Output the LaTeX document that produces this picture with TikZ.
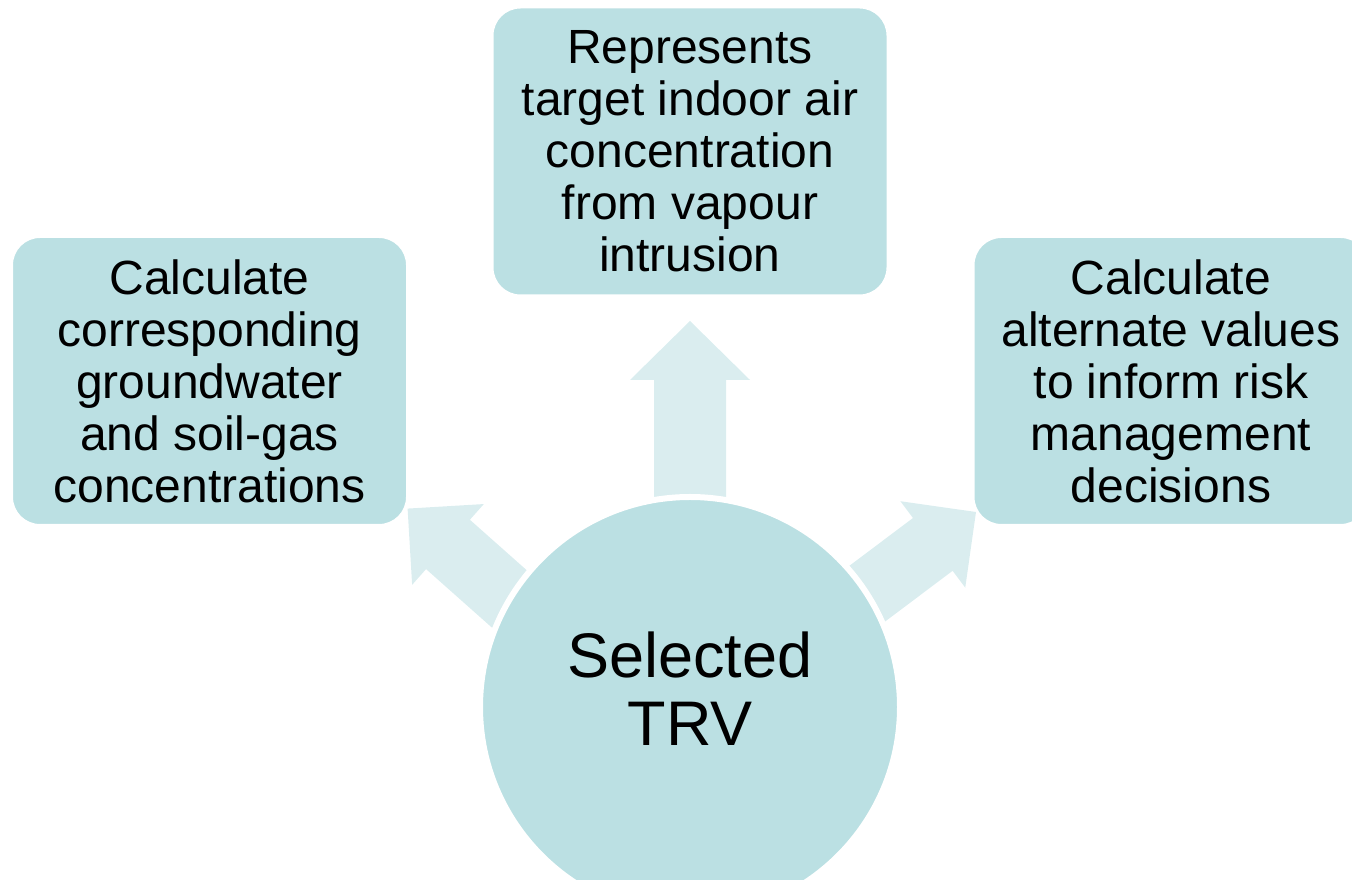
\documentclass[tikz,border=0pt]{standalone}
\usepackage{fontspec}
\setmainfont{Liberation Sans}
\definecolor{tealbox}{RGB}{187,224,227}
\definecolor{tealarrow}{RGB}{218,237,239}

\begin{document}
\begin{tikzpicture}[
        x=1pt, y=1pt,
        box/.style={rectangle, fill=tealbox, draw=white, line width=2pt, rounded corners=28pt, minimum width=395pt, minimum height=288pt, align=center, font=\fontsize{48}{52}\selectfont},
        hub/.style={circle, fill=tealbox, draw=white, line width=6pt, minimum size=420pt, inner sep=0pt},
        hubtext/.style={align=center, font=\fontsize{63}{68}\selectfont},
        blockarrow/.style={fill=tealarrow}
    ]
        \useasboundingbox (0,0) rectangle (1352,880);
        \clip (0,0) rectangle (1352,880);

        % Arrow tips
        \coordinate (tipup) at (690,559);
        \coordinate (tipleft) at (407.6,371.4);
        \coordinate (tipright) at (976,368);

        % Block arrows
        \foreach \t/\a/\h/\w/\s in {tipup/90/59/60/36, tipleft/138.4/54/54/33, tipright/36.9/54/54/33}
            \fill[blockarrow, shift={(\t)}, rotate=\a] (0,0) -- (-\h,\w) -- (-\h,\s) -- (-200,\s) -- (-200,-\s) -- (-\h,-\s) -- (-\h,-\w) -- cycle;

        % Centre
        \node [hub] (trv) at (690,173) {};
        \node [hubtext] (trvtext) at ([yshift=18pt]trv.center) {Selected\\TRV};

        % Outcomes
        \node [box] (indoor) at (690,728.5) {Represents\\target indoor air\\concentration\\from vapour\\intrusion};
        \node [box] (ground) at (209.5,499) {Calculate\\corresponding\\groundwater\\and soil-gas\\concentrations};
        \node [box] (alternate) at (1171,499) {Calculate\\alternate values\\to inform risk\\management\\decisions};

    \end{tikzpicture}
\end{document}
